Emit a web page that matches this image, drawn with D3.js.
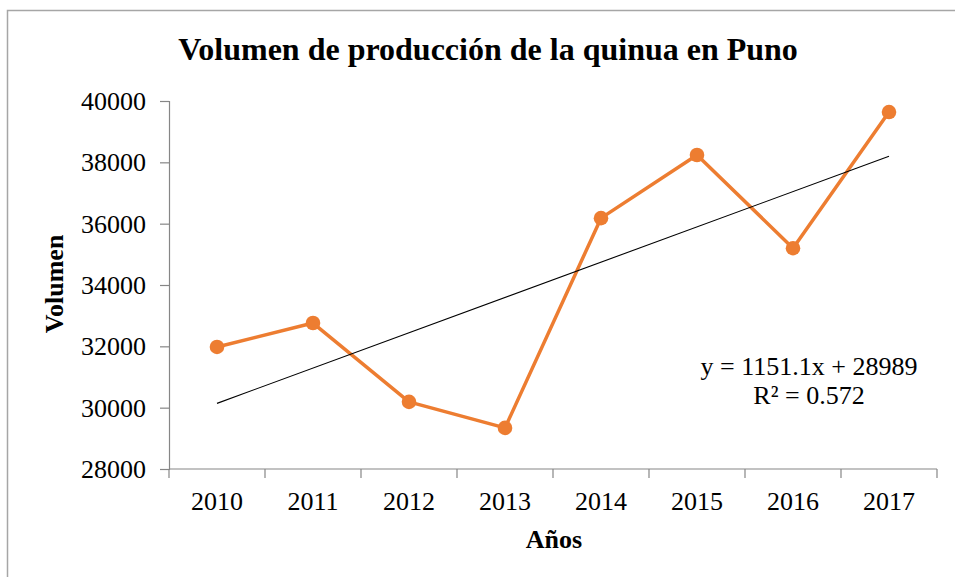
<!DOCTYPE html>
<html>
<head>
<meta charset="utf-8">
<script src="https://cdn.jsdelivr.net/npm/d3@7"></script>
<style>
  html, body { margin: 0; padding: 0; background: #fff; }
  svg { display: block; }
</style>
</head>
<body>
<div id="chart"></div>
<script>
(function () {
  'use strict';

  // Data
  var years   = ['2010', '2011', '2012', '2013', '2014', '2015', '2016', '2017'];
  var volumen = [31980, 32760, 30190, 29340, 36180, 38240, 35200, 39640];
  var yTicks  = [28000, 30000, 32000, 34000, 36000, 38000, 40000];
  var trendSlope = 1151.1, trendIntercept = 28989, trendR2 = 0.572;

  var COL = {
    line:  '#ed7d31',
    axis:  '#868686',
    text:  '#000000',
    trend: '#000000',
    frame: '#a6a6a6'
  };
  var FONT = '"Liberation Serif", "Times New Roman", serif';

  var W = 955, H = 577;
  var plot = { left: 169, right: 937, top: 101, bottom: 469 };

  var svg = d3.select('#chart').append('svg')
    .attr('width', W).attr('height', H)
    .style('font-family', FONT);

  // Chart frame (runs off the right and bottom edges)
  svg.append('rect')
    .attr('x', 7.5).attr('y', 10.5)
    .attr('width', W + 20).attr('height', H + 20)
    .attr('fill', '#fff')
    .attr('stroke', COL.frame).attr('stroke-width', 1.5);

  var x = d3.scaleBand().domain(years).range([plot.left, plot.right]).padding(0);
  var y = d3.scaleLinear().domain([28000, 40000]).range([plot.bottom, plot.top]);
  var xc = function (d) { return x(d) + x.bandwidth() / 2; };

  // Y axis
  var yAxis = svg.append('g')
    .attr('transform', 'translate(' + plot.left + ',0)')
    .call(d3.axisLeft(y).tickValues(yTicks).tickSize(9).tickPadding(14)
      .tickFormat(d3.format('d')));
  yAxis.select('.domain').attr('stroke', COL.axis).attr('stroke-width', 1.2);
  yAxis.selectAll('.tick line').attr('stroke', COL.axis).attr('stroke-width', 1.2);
  yAxis.selectAll('text')
    .attr('font-family', FONT).attr('font-size', 26).attr('fill', COL.text)
    .attr('dy', '0.33em');

  // X axis: ticks at category boundaries
  var xAxis = svg.append('g').attr('transform', 'translate(0,' + plot.bottom + ')');
  xAxis.append('line')
    .attr('x1', plot.left).attr('x2', plot.right)
    .attr('stroke', COL.axis).attr('stroke-width', 1.2);
  var bounds = years.map(function (d) { return x(d); }).concat([plot.right]);
  xAxis.selectAll('line.tk').data(bounds).join('line')
    .attr('class', 'tk')
    .attr('x1', function (d) { return d; }).attr('x2', function (d) { return d; })
    .attr('y1', 0).attr('y2', 9)
    .attr('stroke', COL.axis).attr('stroke-width', 1.2);
  xAxis.selectAll('text').data(years).join('text')
    .attr('x', xc).attr('y', 41)
    .attr('text-anchor', 'middle')
    .attr('font-size', 26).attr('fill', COL.text)
    .text(function (d) { return d; });

  // Series line + markers
  var pts = years.map(function (d, i) { return { year: d, v: volumen[i] }; });
  svg.append('path').datum(pts)
    .attr('fill', 'none')
    .attr('stroke', COL.line).attr('stroke-width', 3.5)
    .attr('stroke-linejoin', 'round')
    .attr('d', d3.line()
      .x(function (p) { return xc(p.year); })
      .y(function (p) { return y(p.v); }));

  // Linear trendline (x = 1..n)
  var trend = years.map(function (d, i) {
    return { year: d, v: trendSlope * (i + 1) + trendIntercept };
  });
  svg.append('path').datum([trend[0], trend[trend.length - 1]])
    .attr('fill', 'none')
    .attr('stroke', COL.trend).attr('stroke-width', 1.1)
    .attr('d', d3.line()
      .x(function (p) { return xc(p.year); })
      .y(function (p) { return y(p.v); }));

  svg.selectAll('circle.mk').data(pts).join('circle')
    .attr('class', 'mk')
    .attr('cx', function (p) { return xc(p.year); })
    .attr('cy', function (p) { return y(p.v); })
    .attr('r', 7.3)
    .attr('fill', COL.line);

  // Trend equation
  var eq = svg.append('text')
    .attr('text-anchor', 'middle')
    .attr('font-size', 26).attr('fill', COL.text);
  eq.append('tspan').attr('x', 809).attr('y', 375)
    .text('y = ' + trendSlope + 'x + ' + trendIntercept);
  eq.append('tspan').attr('x', 809).attr('y', 404)
    .text('R² = ' + trendR2);

  // Titles
  svg.append('text')
    .attr('x', 488).attr('y', 60)
    .attr('text-anchor', 'middle')
    .attr('font-size', 32).attr('font-weight', 'bold')
    .text('Volumen de producción de la quinua en Puno');

  svg.append('text')
    .attr('x', 554).attr('y', 548)
    .attr('text-anchor', 'middle')
    .attr('font-size', 26).attr('font-weight', 'bold')
    .text('Años');

  svg.append('text')
    .attr('transform', 'translate(63,284) rotate(-90)')
    .attr('text-anchor', 'middle')
    .attr('font-size', 26).attr('font-weight', 'bold')
    .text('Volumen');
}());
</script>
</body>
</html>
